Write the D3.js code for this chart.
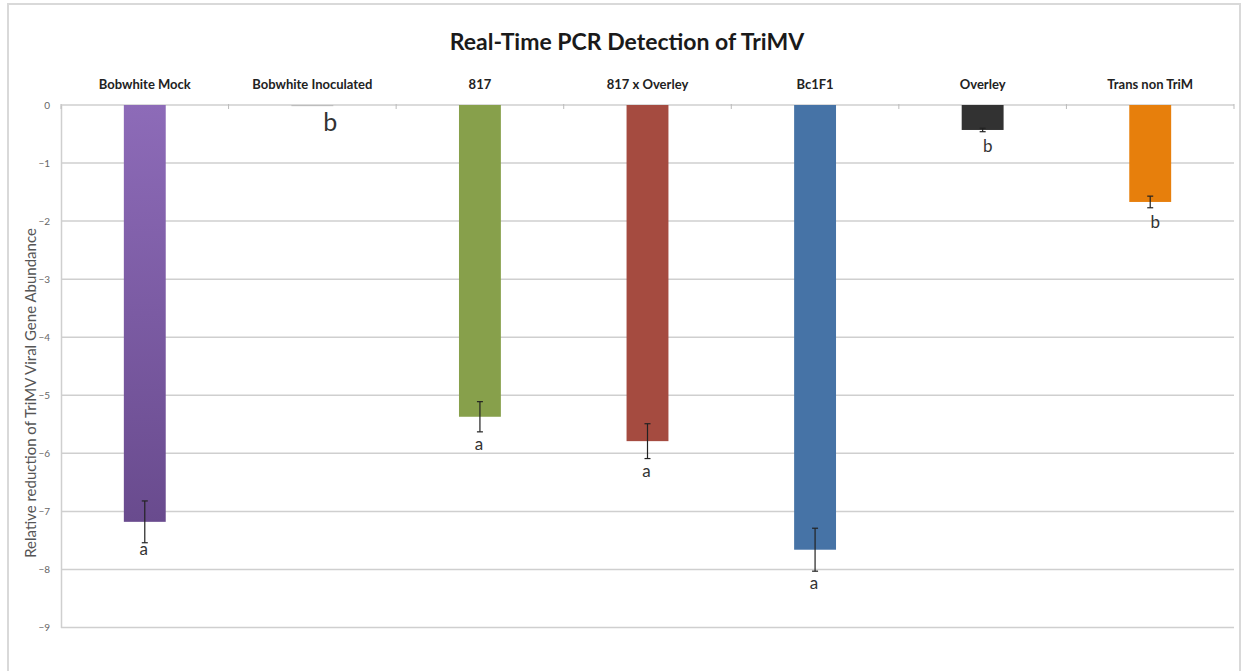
<!DOCTYPE html>
<html>
<head>
<meta charset="utf-8">
<script src="https://cdn.jsdelivr.net/npm/d3@7"></script>
<style>
  body { margin: 0; background: #fff; }
  svg text { font-family: Lato, "Open Sans", sans-serif; }
</style>
</head>
<body>
<svg id="chart" width="1245" height="671"></svg>
<script>
// values
var categories = ['Bobwhite Mock', 'Bobwhite Inoculated', '817', '817 x Overley', 'Bc1F1', 'Overley', 'Trans non TriM'];
var values = [-7.18, -0.02, -5.37, -5.79, -7.66, -0.43, -1.67];
var errors = [0.36, 0, 0.26, 0.30, 0.37, 0.03, 0.10];
var letters = ['a', 'b', 'a', 'a', 'a', 'b', 'b'];
var barColors = ['#8161a9', '#bdbdbd', '#87a04b', '#a54b40', '#4673a6', '#323232', '#e77f0c'];
var yTicks = [0, -1, -2, -3, -4, -5, -6, -7, -8, -9];

var svg = d3.select('#chart');
var plotLeft = 61, plotRight = 1234, plotTop = 105, plotBottom = 627.5;

// outer frame
svg.append('rect')
  .attr('x', 8).attr('y', 4).attr('width', 1232).attr('height', 700)
  .attr('fill', 'none').attr('stroke', '#d9d9d9').attr('stroke-width', 2);

var x = d3.scaleBand().domain(categories).range([plotLeft, plotRight]).paddingInner(0).paddingOuter(0);
var y = d3.scaleLinear().domain([0, -9]).range([plotTop, plotBottom]);
var barW = x.bandwidth() * 0.25;
var cx = function(i){ return x(categories[i]) + x.bandwidth() / 2; };

// gradient for first bar
var defs = svg.append('defs');
var grad = defs.append('linearGradient').attr('id', 'purple').attr('x1', 0).attr('y1', 0).attr('x2', 0).attr('y2', 1);
grad.append('stop').attr('offset', '0%').attr('stop-color', '#8d6bb8');
grad.append('stop').attr('offset', '100%').attr('stop-color', '#694b8e');

// gridlines
svg.append('g').selectAll('line').data(yTicks).enter().append('line')
  .attr('x1', plotLeft).attr('x2', plotRight)
  .attr('y1', function(d){ return y(d); }).attr('y2', function(d){ return y(d); })
  .attr('stroke', '#cfcfcf').attr('stroke-width', 1.5);

// left axis
var yAxis = d3.axisLeft(y).tickValues(yTicks).tickSize(0).tickPadding(11);
var gy = svg.append('g').attr('transform', 'translate(' + plotLeft + ',0)').call(yAxis);
gy.select('.domain').attr('stroke', '#cfcfcf').attr('stroke-width', 1.5);
gy.selectAll('text').attr('fill', '#666').attr('font-size', 10);

// category ticks on the zero line
var bounds = categories.map(function(c){ return x(c); }).concat([plotRight]);
svg.append('g').selectAll('line').data(bounds).enter().append('line')
  .attr('x1', function(d){ return d; }).attr('x2', function(d){ return d; })
  .attr('y1', y(0) - 1).attr('y2', y(0) + 4)
  .attr('stroke', '#bbb').attr('stroke-width', 1);

// bars
svg.append('g').selectAll('rect').data(values).enter().append('rect')
  .attr('x', function(d, i){ return cx(i) - barW / 2; })
  .attr('y', y(0))
  .attr('width', barW)
  .attr('height', function(d){ return y(d) - y(0); })
  .attr('fill', function(d, i){ return i === 0 ? 'url(#purple)' : barColors[i]; });

// error bars
var eb = svg.append('g').selectAll('g').data(values).enter().append('g')
  .filter(function(d, i){ return errors[i] > 0; });
eb.append('line')
  .attr('x1', function(d){ return cx(values.indexOf(d)); })
  .attr('x2', function(d){ return cx(values.indexOf(d)); })
  .attr('y1', function(d){ return y(d + errors[values.indexOf(d)]); })
  .attr('y2', function(d){ return y(d - errors[values.indexOf(d)]); })
  .attr('stroke', '#222').attr('stroke-width', 1.2);
[1, -1].forEach(function(s){
  eb.append('line')
    .attr('x1', function(d){ return cx(values.indexOf(d)) - 3; })
    .attr('x2', function(d){ return cx(values.indexOf(d)) + 3; })
    .attr('y1', function(d){ return y(d + s * errors[values.indexOf(d)]); })
    .attr('y2', function(d){ return y(d + s * errors[values.indexOf(d)]); })
    .attr('stroke', '#222').attr('stroke-width', 1.2);
});

// significance letters
svg.append('g').selectAll('text').data(letters).enter().append('text')
  .attr('x', function(d, i){ return cx(i) + (i === 1 ? 18 : (i >= 5 ? 5 : -1)); })
  .attr('y', function(d, i){
    if (i === 1) return y(values[i]) + 25;
    if (i === 0) return y(values[i] - errors[i]) + 12;
    return y(values[i] - errors[i]) + (i >= 5 ? 20 : 18);
  })
  .attr('text-anchor', 'middle')
  .attr('font-size', function(d, i){ return i === 1 ? 25 : 17; })
  .attr('fill', '#333')
  .text(function(d){ return d; });

// category labels
svg.append('g').selectAll('text').data(categories).enter().append('text')
  .attr('x', function(d){ return x(d) + x.bandwidth() / 2; })
  .attr('y', 89)
  .attr('text-anchor', 'middle')
  .attr('font-size', 13).attr('font-weight', 'bold')
  .attr('fill', '#222')
  .text(function(d){ return d; });

// title
svg.append('text')
  .attr('x', 627).attr('y', 50)
  .attr('text-anchor', 'middle')
  .attr('font-size', 23).attr('font-weight', 'bold')
  .attr('fill', '#1a1a1a')
  .text('Real-Time PCR Detection of TriMV');

// y axis title
svg.append('text')
  .attr('transform', 'translate(36,393) rotate(-90)')
  .attr('text-anchor', 'middle')
  .attr('font-size', 15)
  .attr('fill', '#555')
  .text('Relative reduction of TriMV Viral Gene Abundance');
</script>
</body>
</html>
